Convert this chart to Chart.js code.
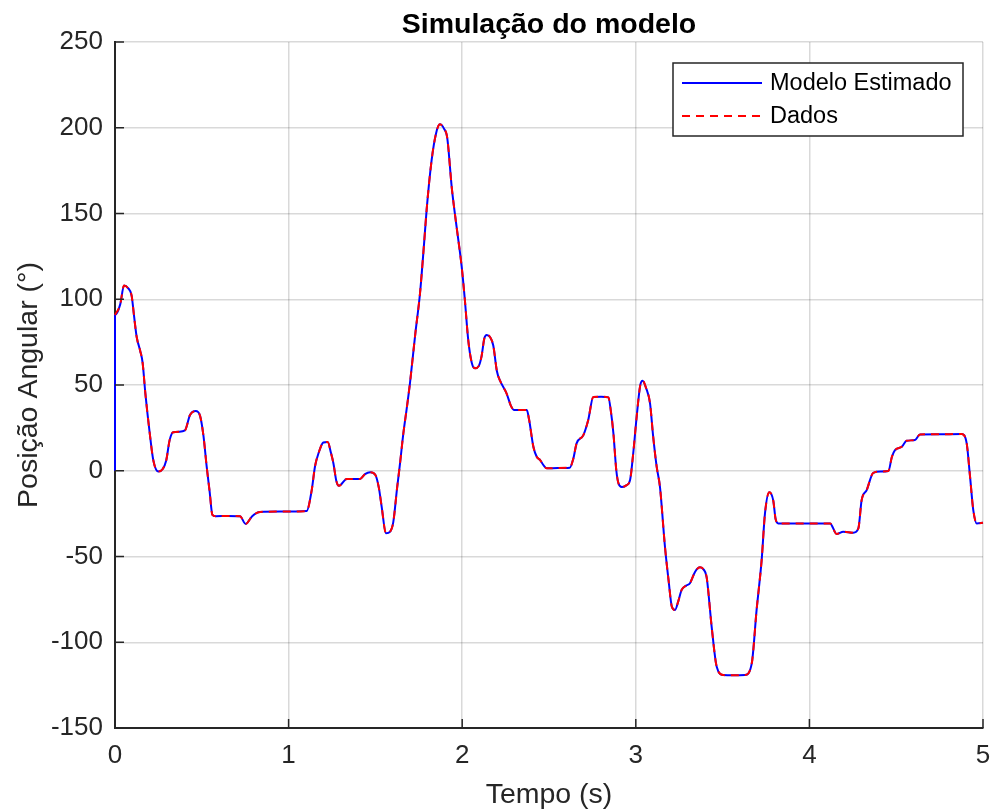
<!DOCTYPE html>
<html>
<head>
<meta charset="utf-8">
<script src="https://cdn.jsdelivr.net/npm/chart.js@4.4.1/dist/chart.umd.min.js"></script>
<style>
  html, body { margin: 0; padding: 0; background: #fff; }
  canvas { display: block; }
</style>
</head>
<body>
<canvas id="grafico" width="994" height="809"></canvas>
<script>
// tempo (s) e posicao angular (graus)
const tempo = [
  0, 0.03, 0.052, 0.075, 0.096, 0.11, 0.125, 0.145, 0.159, 0.175,
  0.2, 0.221, 0.25, 0.275, 0.295, 0.315, 0.335, 0.37, 0.403, 0.432,
  0.465, 0.49, 0.51, 0.528, 0.545, 0.561, 0.58, 0.65, 0.72, 0.753,
  0.79, 0.835, 0.95, 1.104, 1.133, 1.152, 1.175, 1.2, 1.225, 1.245,
  1.258, 1.275, 1.29, 1.335, 1.411, 1.44, 1.47, 1.5, 1.52, 1.536,
  1.561, 1.585, 1.603, 1.625, 1.642, 1.661, 1.68, 1.699, 1.73, 1.757,
  1.78, 1.795, 1.824, 1.85, 1.872, 1.895, 1.914, 1.94, 1.968, 1.997,
  2.015, 2.035, 2.055, 2.074, 2.095, 2.112, 2.127, 2.141, 2.16, 2.179,
  2.2, 2.218, 2.256, 2.28, 2.3, 2.372, 2.385, 2.41, 2.43, 2.448,
  2.47, 2.487, 2.55, 2.62, 2.64, 2.659, 2.698, 2.726, 2.755, 2.8,
  2.842, 2.856, 2.871, 2.888, 2.9, 2.919, 2.945, 2.967, 2.985, 3.005,
  3.025, 3.039, 3.06, 3.082, 3.1, 3.12, 3.139, 3.168, 3.19, 3.207,
  3.226, 3.245, 3.264, 3.29, 3.312, 3.341, 3.37, 3.39, 3.408, 3.437,
  3.466, 3.504, 3.56, 3.629, 3.668, 3.696, 3.725, 3.744, 3.769, 3.792,
  3.805, 3.821, 3.95, 4.119, 4.157, 4.195, 4.253, 4.282, 4.301, 4.33,
  4.368, 4.41, 4.455, 4.475, 4.493, 4.532, 4.56, 4.608, 4.637, 4.75,
  4.877, 4.906, 4.925, 4.944, 4.964, 5.0
];
const dados = [
  90.8, 97, 108, 106.5, 102, 90, 78, 70, 63, 45,
  22, 6, -0.5, 1, 6, 18, 22.5, 22.8, 23.5, 32.5,
  34.8, 32, 20, 2.5, -12, -25.7, -26.5, -26.4, -26.6, -31,
  -26.5, -24, -23.8, -23.5, -11.4, 2.5, 11, 16.5, 16.8, 10,
  4.4, -6, -8.8, -4.8, -4.8, -2, -0.9, -2.5, -10, -20.9,
  -36.5, -35.5, -30, -10, 4.4, 21.8, 36, 51, 80, 103.5,
  132, 152, 181.2, 197, 202, 199.5, 194, 165, 142, 119,
  100, 76, 63, 59.7, 61, 67, 77, 79.2, 78, 73,
  58, 52.5, 45, 38, 35.4, 35.4, 30, 14, 8, 6.3,
  3, 1.4, 1.6, 1.8, 7, 16, 20.8, 29.6, 43, 43.2,
  42.8, 35, 21.8, 0, -7.3, -9.5, -8.5, -5.4, 10, 31.5,
  49.5, 52.5, 48, 39.3, 20, 2.5, -9.3, -44.3, -65, -79,
  -81.2, -76, -69.5, -67, -65.6, -59, -56.3, -57.5, -62, -91,
  -114.3, -119.1, -119.3, -119.1, -112.3, -81, -52, -25, -12.6, -17.5,
  -28, -30.7, -30.7, -30.7, -36.9, -35.5, -36.1, -33.6, -17.1, -11.3,
  -1.2, -0.5, -0.2, 8, 12, 14, 17.5, 17.9, 21.2, 21.3,
  21.4, 16, -3, -22.9, -30.7, -30.3
];
// o modelo parte de 0 em t = 0 e depois coincide com os dados
const tempoModelo = [0].concat(tempo);
const modelo = [0].concat(dados);

const xTicks = [0, 1, 2, 3, 4, 5];
const yTicks = [-150, -100, -50, 0, 50, 100, 150, 200, 250];

const fonte = '"Liberation Sans", Arial, Helvetica, sans-serif';
const corEixo = '#262626';
const corGrade = 'rgba(0,0,0,0.15)';

function pontos(xs, ys) {
  return xs.map(function (x, i) { return { x: x, y: ys[i] }; });
}

const legendaCaixa = {
  id: 'legendaCaixa',
  afterDraw(chart) {
    const ctx = chart.ctx;
    const x0 = 673, y0 = 63, w = 290, h = 73;
    ctx.save();
    ctx.fillStyle = '#fff';
    ctx.fillRect(x0, y0, w, h);
    ctx.strokeStyle = corEixo;
    ctx.lineWidth = 1.5;
    ctx.strokeRect(x0, y0, w, h);
    const linhas = [chart.data.datasets[0], chart.data.datasets[1]];
    const ys = [83, 116];
    ctx.font = '23.5px ' + fonte;
    ctx.textBaseline = 'middle';
    linhas.forEach(function (ds, i) {
      ctx.beginPath();
      ctx.strokeStyle = ds.borderColor;
      ctx.lineWidth = 2;
      ctx.setLineDash(ds.borderDash || []);
      ctx.moveTo(682, ys[i]);
      ctx.lineTo(762, ys[i]);
      ctx.stroke();
      ctx.setLineDash([]);
      ctx.fillStyle = '#000';
      ctx.fillText(ds.label, 770, ys[i] + 1);
    });
    ctx.restore();
  }
};

const marcasInternas = {
  id: 'marcasInternas',
  afterDraw(chart) {
    const ctx = chart.ctx;
    const a = chart.chartArea;
    const sx = chart.scales.x, sy = chart.scales.y;
    ctx.save();
    ctx.strokeStyle = corEixo;
    ctx.lineWidth = 1.5;
    ctx.beginPath();
    xTicks.forEach(function (v) {
      const px = sx.getPixelForValue(v);
      ctx.moveTo(px, a.bottom);
      ctx.lineTo(px, a.bottom - 9);
    });
    yTicks.forEach(function (v) {
      const py = sy.getPixelForValue(v);
      ctx.moveTo(a.left, py);
      ctx.lineTo(a.left + 9, py);
    });
    ctx.stroke();
    ctx.fillStyle = '#000';
    ctx.font = 'bold 28.5px ' + fonte;
    ctx.textAlign = 'center';
    ctx.textBaseline = 'middle';
    ctx.fillText('Simulação do modelo', (a.left + a.right) / 2, 25);
    ctx.restore();
  }
};

new Chart(document.getElementById('grafico'), {
  type: 'line',
  data: {
    datasets: [{
      label: 'Modelo Estimado',
      data: pontos(tempoModelo, modelo),
      borderColor: '#0000ff',
      borderWidth: 2,
      pointRadius: 0,
      cubicInterpolationMode: 'monotone',
      clip: 4,
      order: 2
    }, {
      label: 'Dados',
      data: pontos(tempo, dados),
      borderColor: '#ff0000',
      borderWidth: 2,
      borderDash: [8, 6],
      pointRadius: 0,
      cubicInterpolationMode: 'monotone',
      clip: 4,
      order: 1
    }]
  },
  options: {
    responsive: false,
    animation: false,
    layout: { padding: { top: 42, right: 11, left: 0, bottom: 0 } },
    plugins: {
      legend: { display: false },
      title: { display: false },
      tooltip: { enabled: false }
    },
    scales: {
      x: {
        type: 'linear',
        min: 0,
        max: 5,
        afterBuildTicks(s) { s.ticks = xTicks.map(function (v) { return { value: v }; }); },
        afterFit(s) { s.height = 81; s.paddingLeft = 0; s.paddingRight = 0; },
        ticks: { color: corEixo, font: { family: fonte, size: 26 }, padding: 12, maxRotation: 0 },
        grid: { color: corGrade, lineWidth: 1.5, drawTicks: false },
        border: { display: true, color: corEixo, width: 2 },
        title: {
          display: true, text: 'Tempo (s)', color: corEixo,
          font: { family: fonte, size: 28.5, lineHeight: 1 }, padding: { top: 0, bottom: 0 }
        }
      },
      y: {
        type: 'linear',
        min: -150,
        max: 250,
        afterBuildTicks(s) { s.ticks = yTicks.map(function (v) { return { value: v }; }); },
        afterFit(s) { s.width = 115; s.paddingTop = 0; s.paddingBottom = 0; },
        ticks: { color: corEixo, font: { family: fonte, size: 26 }, padding: 12 },
        grid: { color: corGrade, lineWidth: 1.5, drawTicks: false },
        border: { display: true, color: corEixo, width: 2 },
        title: {
          display: true, text: 'Posição Angular (°)', color: corEixo,
          font: { family: fonte, size: 28.5 }, padding: { top: 12, bottom: 0 }
        }
      }
    }
  },
  plugins: [legendaCaixa, marcasInternas]
});
</script>
</body>
</html>
